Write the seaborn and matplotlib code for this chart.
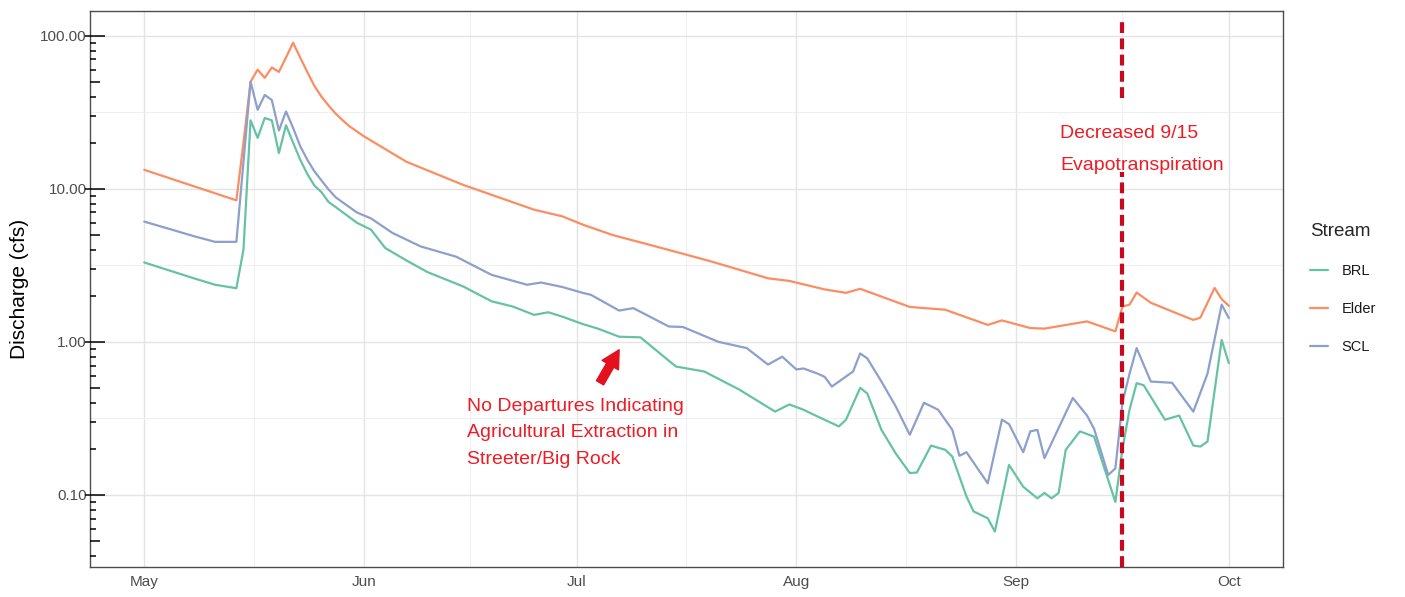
import pandas as pd
import numpy as np
import matplotlib.pyplot as plt
import matplotlib.ticker as mticker
import matplotlib.dates as mdates
import seaborn as sns

# -------------------------------
# Data, days counted from May 1
# -------------------------------
brl_day = [0, 4, 7, 10, 13, 14, 15, 16, 17, 18, 19, 20, 21, 22, 23, 24, 25, 26, 27, 30,
           32, 34, 37, 40, 45, 49, 52, 55, 57, 59, 62, 64, 67, 70, 75, 79, 84, 89, 91, 93,
           95, 98, 99, 101, 102, 104, 106, 108, 109, 111, 113, 114, 116, 117, 119, 120, 121, 122, 124, 126,
           127, 128, 129, 130, 132, 134, 137, 138, 139, 140, 141, 144, 146, 148, 149, 150, 152, 153]
brl_q = [3.3, 2.88, 2.6, 2.36, 2.24, 4.0, 28, 21.5, 29, 28, 17.1, 26, 20, 15.5, 12.5, 10.5, 9.5, 8.2, 7.6, 6.0,
         5.4, 4.1, 3.4, 2.85, 2.3, 1.84, 1.7, 1.5, 1.56, 1.46, 1.3, 1.22, 1.08, 1.07, 0.69, 0.64, 0.486, 0.35, 0.39, 0.36,
         0.325, 0.28, 0.31, 0.50, 0.46, 0.266, 0.187, 0.139, 0.14, 0.21, 0.197, 0.178, 0.0975, 0.078, 0.0704, 0.0576, 0.095, 0.157, 0.113, 0.095,
         0.103, 0.095, 0.103, 0.197, 0.26, 0.24, 0.09, 0.2, 0.36, 0.537, 0.52, 0.31, 0.33, 0.21, 0.207, 0.223, 1.03, 0.726]

elder_day = [0, 13, 14, 15, 16, 17, 18, 19, 20, 21, 22, 23, 24, 25, 26, 27, 28, 29, 31, 37,
             45, 55, 59, 62, 66, 73, 80, 88, 91, 96, 99, 101, 108, 113, 119, 121, 125, 127, 133, 137,
             138, 139, 140, 142, 145, 148, 149, 151, 152, 153]
elder_q = [13.3, 8.4, 20, 50, 60, 53, 62, 58, 72, 90, 72, 58, 47, 40, 35, 31, 28, 25.5, 22, 15,
           10.6, 7.3, 6.6, 5.8, 5.0, 4.1, 3.35, 2.6, 2.5, 2.2, 2.09, 2.22, 1.69, 1.62, 1.29, 1.38, 1.23, 1.22, 1.36, 1.17,
           1.70, 1.75, 2.1, 1.8, 1.58, 1.39, 1.44, 2.25, 1.9, 1.72]

scl_day = [0, 3, 7, 10, 13, 14, 15, 16, 17, 18, 19, 20, 21, 22, 23, 24, 26, 27, 30, 32,
           35, 39, 44, 49, 54, 56, 59, 62, 63, 67, 69, 74, 76, 81, 85, 88, 90, 92, 93, 95,
           96, 97, 100, 101, 102, 104, 106, 108, 110, 112, 114, 115, 116, 119, 121, 122, 124, 125, 126, 127,
           131, 133, 134, 136, 137, 138, 139, 140, 142, 145, 148, 150, 152, 153]
scl_q = [6.1, 5.56, 4.9, 4.5, 4.5, 15, 50, 32.8, 41, 38, 24, 32, 25, 19, 15.5, 13, 9.9, 8.8, 7.0, 6.4,
         5.15, 4.2, 3.6, 2.74, 2.36, 2.44, 2.28, 2.08, 2.03, 1.6, 1.66, 1.26, 1.25, 1.0, 0.91, 0.71, 0.80, 0.66, 0.67, 0.62,
         0.59, 0.51, 0.64, 0.84, 0.78, 0.55, 0.38, 0.247, 0.40, 0.36, 0.266, 0.18, 0.19, 0.119, 0.31, 0.29, 0.19, 0.26, 0.266, 0.174,
         0.43, 0.33, 0.27, 0.135, 0.149, 0.4, 0.62, 0.91, 0.55, 0.54, 0.35, 0.62, 1.75, 1.43]

streams = ['BRL', 'Elder', 'SCL']
colors = {'BRL': '#66c2a5', 'Elder': '#fc8d62', 'SCL': '#8da0cb'}
y_breaks = [0.1, 1, 10, 100]
start = pd.Timestamp('2018-05-01')
et_day = pd.Timestamp('2018-09-16')

frames = []
for name, d, q in zip(streams, [brl_day, elder_day, scl_day], [brl_q, elder_q, scl_q]):
    frames.append(pd.DataFrame({'date': start + pd.to_timedelta(d, unit='D'), 'q': q, 'Stream': name}))
df = pd.concat(frames, ignore_index=True)

# -------------------------------
# Plot
# -------------------------------
sns.set_style('white')
plt.rcParams['font.family'] = ['Liberation Sans', 'DejaVu Sans']

fig = plt.figure(figsize=(14.05, 5.97), dpi=100)
ax = fig.add_axes([90/1405, 30/597, 1193/1405, 556/597])

sns.lineplot(data=df, x='date', y='q', hue='Stream', palette=colors, hue_order=streams,
             linewidth=1.6, ax=ax, legend=True)
ax.set_yscale('log')
ax.set_ylim(0.0338, 145)
ax.set_xlim(start - pd.Timedelta(days=7.65), pd.Timestamp('2018-10-01') + pd.Timedelta(days=7.65))

# axis ticks / grid
months = pd.date_range('2018-05-01', '2018-10-01', freq='MS')
mids = months[:-1] + (months[1:] - months[:-1]) / 2
ax.xaxis.set_major_locator(mticker.FixedLocator(mdates.date2num(months)))
ax.xaxis.set_minor_locator(mticker.FixedLocator(mdates.date2num(mids)))
ax.xaxis.set_major_formatter(mdates.DateFormatter('%b'))
ax.yaxis.set_major_locator(mticker.FixedLocator(y_breaks))
ax.yaxis.set_minor_locator(mticker.FixedLocator([10**(k + 0.5) for k in range(-2, 2)]))
ax.yaxis.set_major_formatter(mticker.FuncFormatter(lambda v, p: f'{v:.2f}'))
ax.yaxis.set_minor_formatter(mticker.NullFormatter())

ax.grid(which='major', color='#e4e4e4', lw=1.0)
ax.grid(which='minor', color='#efefef', lw=0.7)
ax.set_axisbelow(True)
ax.tick_params(axis='both', which='major', direction='out', length=3.6, width=1,
               color='#4d4d4d', labelcolor='#4d4d4d', labelsize=11, pad=2.5)
ax.tick_params(axis='both', which='minor', length=0)
ax.tick_params(axis='y', which='major', length=0)
for s in ax.spines.values():
    s.set_color('#4d4d4d')
    s.set_linewidth(1.0)

# log ticks inside the left edge
ytr = ax.get_yaxis_transform()
for k in range(-2, 3):
    for m in range(1, 10):
        v = m * 10.0**k
        if 0.0338 <= v <= 145:
            ln = 0.0126 if m == 1 else (0.0084 if m == 5 else 0.005)
            ax.plot([-0.0045 if m == 1 else 0, ln], [v, v], transform=ytr, color='black',
                    lw=1.1, clip_on=False, solid_capstyle='butt', zorder=5)

ax.set_xlabel('')
ax.set_ylabel('Discharge (cfs)', fontsize=15, color='black')
ax.yaxis.set_label_coords(-0.051, 0.5)

# annotations: dashed line broken around its label
for lo, hi in [(0.0, 0.71), (0.8435, 0.985)]:
    ax.axvline(et_day, ymin=lo, ymax=hi, color='#c8081f', ls=(0, (2.6, 1.3)), lw=3, zorder=6)
ax.text(start + pd.Timedelta(days=129.2), 18.0, 'Decreased 9/15\nEvapotranspiration',
        color='#ee1c25', fontsize=14, ha='left', va='center', linespacing=2.2, zorder=7)
ax.text(start + pd.Timedelta(days=45.5), 0.254,
        'No Departures Indicating\nAgricultural Extraction in\nStreeter/Big Rock',
        color='#ee1c25', fontsize=14, ha='left', va='center', linespacing=1.7, zorder=7)
ax.annotate('', xy=(start + pd.Timedelta(days=67.0), 0.887),
            xytext=(start + pd.Timedelta(days=64.3), 0.54),
            arrowprops=dict(arrowstyle='simple,head_length=0.75,head_width=0.8,tail_width=0.35',
                            color='#e3101e', mutation_scale=17, shrinkA=0, shrinkB=0), zorder=7)

# legend
handles, labels = ax.get_legend_handles_labels()
ax.get_legend().remove()
leg = fig.legend(handles, labels, title='Stream', loc='upper left',
                 bbox_to_anchor=(1297/1405, 1 - 210/597), frameon=False, fontsize=10.5,
                 title_fontsize=13.5, handlelength=1.25, handletextpad=0.9, labelspacing=1.65,
                 alignment='left')
for t in leg.get_texts():
    t.set_color('#1a1a1a')

fig.savefig('out.png', dpi=100)
